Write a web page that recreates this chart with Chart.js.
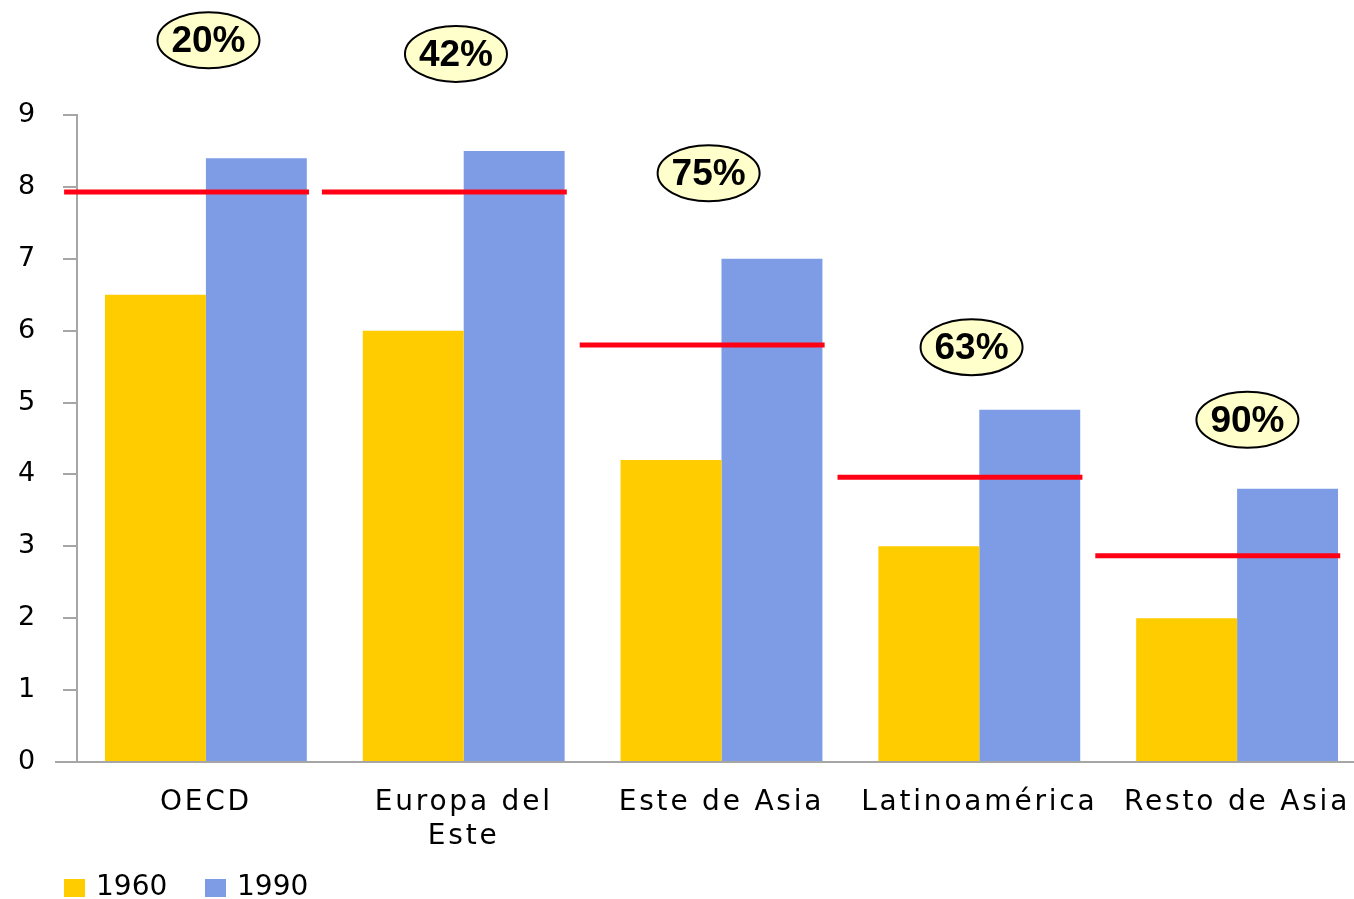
<!DOCTYPE html>
<html>
<head>
<meta charset="utf-8">
<title>Chart</title>
<script src="https://cdn.jsdelivr.net/npm/chart.js@4.4.1/dist/chart.umd.min.js"></script>
<style>
  html, body { margin: 0; padding: 0; overflow: hidden; background: #fff; }
  #wrap { width: 1370px; height: 899px; }
</style>
</head>
<body>
<div id="wrap"><canvas id="myChart"></canvas></div>

<script>
  // Data
  const categories = ["OECD", ["Europa del", "Este"], "Este de Asia", "Latinoamérica", "Resto de Asia"];
  const values1960 = [6.5, 6.0, 4.2, 3.0, 2.0];
  const values1990 = [8.4, 8.5, 7.0, 4.9, 3.8];
  // red reference lines, one per category
  const refLevels = [7.93, 7.93, 5.8, 3.96, 2.87];
  // callout bubbles: text, category offset, y value
  const bubbleText = ["20%", "42%", "75%", "63%", "90%"];
  const bubbleShift = [0.01, -0.03, -0.05, -0.03, 0.04];
  const bubbleY = [10.04, 9.85, 8.19, 5.77, 4.76];
  const yTicks = [0, 1, 2, 3, 4, 5, 6, 7, 8, 9];

  const FONT = "'DejaVu Sans', sans-serif";
  const BOLD = "'Liberation Sans', Arial, sans-serif";

  // draws red lines, bubbles and the legend
  const extras = {
    id: "extras",
    beforeDraw(chart) {
      chart.ctx.letterSpacing = "2.8px";
    },
    afterDatasetsDraw(chart) {
      const ctx = chart.ctx;
      const x = chart.scales.x, y = chart.scales.y;
      const step = x.getPixelForValue(1) - x.getPixelForValue(0);
      ctx.save();
      ctx.letterSpacing = "0px";

      // x axis line runs a bit past the y axis
      const y0 = y.getPixelForValue(0);
      ctx.strokeStyle = "#A6A6A6";
      ctx.lineWidth = 2;
      ctx.beginPath();
      ctx.moveTo(55, y0);
      ctx.lineTo(chart.chartArea.left, y0);
      ctx.stroke();

      // red lines
      ctx.strokeStyle = "#FF0014";
      ctx.lineWidth = 5;
      refLevels.forEach(function(v, i) {
        const cx = x.getPixelForValue(i);
        const py = y.getPixelForValue(v);
        ctx.beginPath();
        ctx.moveTo(cx - 0.55 * step, py);
        ctx.lineTo(cx + 0.40 * step, py);
        ctx.stroke();
      });

      // bubbles
      bubbleText.forEach(function(t, i) {
        const cx = x.getPixelForValue(i) + bubbleShift[i] * step;
        const cy = y.getPixelForValue(bubbleY[i]);
        ctx.beginPath();
        ctx.ellipse(cx, cy, 51, 28, 0, 0, Math.PI * 2);
        ctx.fillStyle = "#FFFFCC";
        ctx.fill();
        ctx.lineWidth = 2;
        ctx.strokeStyle = "#000";
        ctx.stroke();
        ctx.fillStyle = "#000";
        ctx.font = "bold 37px " + BOLD;
        ctx.textAlign = "center";
        ctx.textBaseline = "middle";
        ctx.fillText(t, cx, cy + 2);
      });

      // legend
      ctx.font = "28px " + FONT;
      ctx.textAlign = "left";
      ctx.textBaseline = "middle";
      let lx = 64;
      const ly = 888;
      chart.data.datasets.forEach(function(ds) {
        ctx.fillStyle = ds.backgroundColor;
        ctx.fillRect(lx, ly - 9, 21, 18);
        ctx.fillStyle = "#000";
        ctx.fillText(ds.label, lx + 32, ly);
        lx += 141;
      });
      ctx.restore();
    }
  };

  new Chart("myChart", {
    type: "bar",
    data: {
      labels: categories,
      datasets: [
        { label: "1960", data: values1960, backgroundColor: "#FFCC00" },
        { label: "1990", data: values1990, backgroundColor: "#7D9CE5" }
      ]
    },
    options: {
      responsive: true,
      maintainAspectRatio: false,
      animation: false,
      layout: { padding: { top: 115, right: 4, left: 0, bottom: 0 } },
      datasets: {
        bar: { categoryPercentage: 0.783, barPercentage: 1.0 }
      },
      plugins: {
        legend: { display: false },
        tooltip: { enabled: false }
      },
      scales: {
        x: {
          grid: { display: false },
          border: { color: "#A6A6A6", width: 2 },
          ticks: {
            color: "#000",
            font: { family: FONT, size: 28, lineHeight: 1.2 },
            padding: 16,
            maxRotation: 0,
            autoSkip: false
          },
          afterFit: function(scale) { scale.height = 137; }
        },
        y: {
          min: 0,
          max: 9,
          afterBuildTicks: function(scale) {
            scale.ticks = yTicks.map(function(v) { return { value: v }; });
          },
          grid: {
            drawOnChartArea: false,
            drawTicks: true,
            tickLength: 14,
            color: "#A6A6A6",
            lineWidth: 2
          },
          border: { color: "#A6A6A6", width: 2 },
          ticks: {
            color: "#000",
            font: { family: FONT, size: 27 },
            padding: 25
          },
          afterFit: function(scale) { scale.width = 77; }
        }
      }
    },
    plugins: [extras]
  });
</script>
</body>
</html>
